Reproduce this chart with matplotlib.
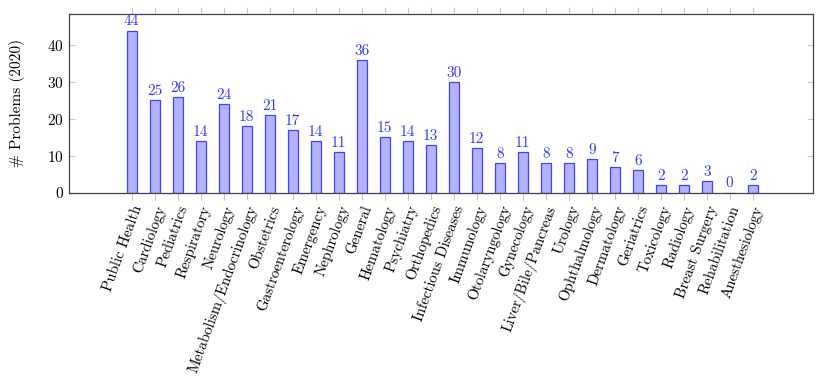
import numpy as np
import matplotlib
matplotlib.use("Agg")
import matplotlib.pyplot as plt

categories = ["Public Health", "Cardiology", "Pediatrics", "Respiratory", "Neurology",
              "Metabolism/Endocrinology", "Obstetrics", "Gastroenterology", "Emergency",
              "Nephrology", "General", "Hematology", "Psychiatry", "Orthopedics",
              "Infectious Diseases", "Immunology", "Otolaryngology", "Gynecology",
              "Liver/Bile/Pancreas", "Urology", "Ophthalmology", "Dermatology",
              "Geriatrics", "Toxicology", "Radiology", "Breast Surgery",
              "Rehabilitation", "Anesthesiology"]
problems = [44, 25, 26, 14, 24, 18, 21, 17, 14, 11, 36, 15, 14, 13, 30, 12, 8, 11,
            8, 8, 9, 7, 6, 2, 2, 3, 0, 2]
yticks = [0, 10, 20, 30, 40]

plt.rcParams["font.family"] = ["cmr10", "DejaVu Serif"]
plt.rcParams["axes.formatter.use_mathtext"] = True
plt.rcParams["font.size"] = 10

fig = plt.figure(figsize=(8.22, 3.79), dpi=100)
ax = fig.add_axes([69 / 822, 1 - 192.5 / 379, (813 - 69) / 822, (192.5 - 14) / 379])

x = np.arange(len(categories))
ax.bar(x, problems, width=0.45, color="#b3b3ff", edgecolor="#4040ff", linewidth=0.9)
for xi, v in zip(x, problems):
    ax.annotate(str(v), (xi, v), xytext=(0, 1.5), textcoords="offset points",
                ha="center", va="bottom", color="#3838ff", fontsize=11)

ax.set_xlim(-2.73, 29.62)
ax.set_ylim(0, 48.5)
ax.set_yticks(yticks)
ax.set_xticks(x)
ax.set_xticklabels(categories, rotation=70, ha="right", va="top", rotation_mode="anchor")
ax.tick_params(axis="x", direction="out", length=5, color="#c8c8c8", top=True, pad=3,
               labelsize=10.8)
ax.tick_params(axis="y", direction="in", length=4, color="#c8c8c8", right=True, labelsize=11)
for s in ax.spines.values():
    s.set_color("#404040")
    s.set_linewidth(0.9)
ax.set_ylabel("# Problems (2020)", fontsize=11, labelpad=16)

fig.savefig("out.png", dpi=100)
